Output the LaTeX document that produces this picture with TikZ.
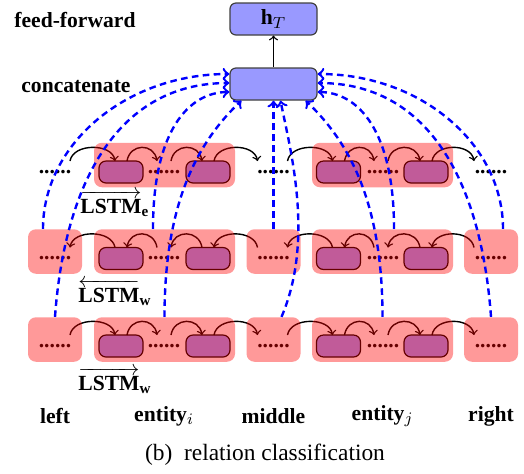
\documentclass[tikz,border=0pt]{standalone}
\usepackage{amsmath}
\usepackage{fontspec}
\setmainfont{Liberation Serif}
\usetikzlibrary{calc}
\begin{document}
\begin{tikzpicture}[x=0.5pt,y=-0.5pt,
  lbl/.style={font=\fontsize{10.8}{13}\selectfont\bfseries, inner sep=0pt},
  hbox/.style={draw=black!75, fill=blue!40, rounded corners=3pt, line width=0.6pt, minimum width=43.5pt, minimum height=16pt, inner sep=0pt},
  pbox/.style={draw=black, fill=blue!40, rounded corners=3.5pt, line width=0.6pt, minimum width=22pt, minimum height=11pt, inner sep=0pt},
  rbig/.style={fill=red, fill opacity=0.4, rounded corners=4pt, minimum width=70.5pt, minimum height=22.25pt, inner sep=0pt},
  rsmall/.style={rbig, minimum width=27pt},
  dotsnode/.style={lbl},
  arcarrow/.style={->, line width=0.7pt},
  dl/.style={->, blue, line width=1.2pt, dash pattern=on 3.3pt off 2.2pt},
]
\useasboundingbox (0,0) rectangle (524,473);

% top boxes
\node[hbox] (hT) at (273.5,19) {\fontsize{10.8}{13}\selectfont$\mathbf{h}_T$};
\node[hbox] (cat) at (273.5,84) {};
\draw[arcarrow] (cat) -- (hT);
\node[lbl, anchor=base west] (ff) at (14,27) {feed-forward};
\node[lbl, anchor=base west] (cc) at (21,92) {concatenate};

% dots and inner boxes
\foreach \r/\y in {t/172, m/258.5, b/346}{
  \node[dotsnode] (\r dL) at (55,\y) {......};
  \node[dotsnode] (\r dI) at (164,\y) {......};
  \node[dotsnode] (\r dM) at (273.5,\y) {......};
  \node[dotsnode] (\r dJ) at (383,\y) {......};
  \node[dotsnode] (\r dR) at (491,\y) {......};
  \node[pbox] (\r pI1) at (121,\y) {};
  \node[pbox] (\r pI2) at (208,\y) {};
  \node[pbox] (\r pJ1) at (338.5,\y) {};
  \node[pbox] (\r pJ2) at (426,\y) {};
}

% recurrent arrows
\foreach \r in {t,b}{
  \foreach \na/\sa/\nb/\sb in {dL/15/pI1/-6, pI1/6/dI/-7, dI/7/pI2/-6, pI2/6/dM/-16, dM/14/pJ1/-6, pJ1/6/dJ/-9, dJ/5/pJ2/-6, pJ2/6/dR/-17}{
    \draw[arcarrow] ($(\r\na)+(\sa,-11)$) .. controls +(3,-18) and +(-3,-18) .. ($(\r\nb)+(\sb,-11)$);
  }
}
\foreach \na/\sa/\nb/\sb in {dL/15/pI1/-6, pI1/6/dI/-7, dI/7/pI2/-6, pI2/6/dM/-16, dM/14/pJ1/-6, pJ1/6/dJ/-9, dJ/5/pJ2/-6, pJ2/6/dR/-17}{
  \draw[arcarrow] ($(m\nb)+(\sb,-11)$) .. controls +(-3,-18) and +(3,-18) .. ($(m\na)+(\sa,-11)$);
}

% translucent red boxes
\node[rbig] (tI) at (164.5,165) {};
\node[rbig] (tJ) at (382.5,165) {};
\foreach \r/\y in {m/251.5, b/339.5}{
  \node[rsmall] (\r L) at (55,\y) {};
  \node[rbig] (\r I) at (164.5,\y) {};
  \node[rsmall] (\r M) at (273.5,\y) {};
  \node[rbig] (\r J) at (382.5,\y) {};
  \node[rsmall] (\r R) at (491,\y) {};
}

% dashed connections to concatenate
\draw[dl] ($(mL.north)+(-12,0)$) .. controls +(0,-85) and +(-103,0) .. ($(cat.west)+(0,-10)$);
\draw[dl] (bL.north) .. controls +(10,-137) and +(-110,0) .. ($(cat.west)+(0,-1)$);
\draw[dl] ($(mI.north)+(-11.5,0)$) .. controls +(0,-99) and +(-40,0) .. ($(cat.west)+(0,8)$);
\draw[dl] (bI.north) .. controls +(0,-117) and +(-42,40) .. ($(cat.south west)+(12,0)$);
\draw[dl] (mM.north) -- (cat.south);
\draw[dl] ($(bM.north)+(8,0)$) .. controls +(33,-77) and +(10,50) .. ($(cat.south)+(7,0)$);
\draw[dl] (bJ.north) .. controls +(0,-117) and +(42,40) .. ($(cat.south east)+(-12,0)$);
\draw[dl] ($(mJ.north)+(11.5,0)$) .. controls +(0,-99) and +(40,0) .. ($(cat.east)+(0,8)$);
\draw[dl] (bR.north) .. controls +(-10,-137) and +(110,0) .. ($(cat.east)+(0,-1)$);
\draw[dl] ($(mR.north)+(12,0)$) .. controls +(0,-85) and +(103,0) .. ($(cat.east)+(0,-10)$);

% LSTM labels
\node[lbl, anchor=base west] (lstmE) at (80,213) {$\overrightarrow{\textbf{LSTM}}_{\textbf{e}}$};
\node[lbl, anchor=base west] (lstmWb) at (78,302) {$\overleftarrow{\textbf{LSTM}}_{\textbf{w}}$};
\node[lbl, anchor=base west] (lstmWf) at (78,390) {$\overrightarrow{\textbf{LSTM}}_{\textbf{w}}$};

% segment labels
\node[lbl] (sLeft) at (55,416) {left};
\node[lbl] (sEi) at (164,416) {entity$_i$};
\node[lbl] (sMid) at (273.5,416) {middle};
\node[lbl] (sEj) at (382.5,416) {entity$_j$};
\node[lbl] (sRight) at (491,416) {right};

\node[font=\fontsize{11.7}{14}\selectfont, inner sep=0pt] (cap) at (265,455) {(b)\enspace relation classification};
\end{tikzpicture}
\end{document}
